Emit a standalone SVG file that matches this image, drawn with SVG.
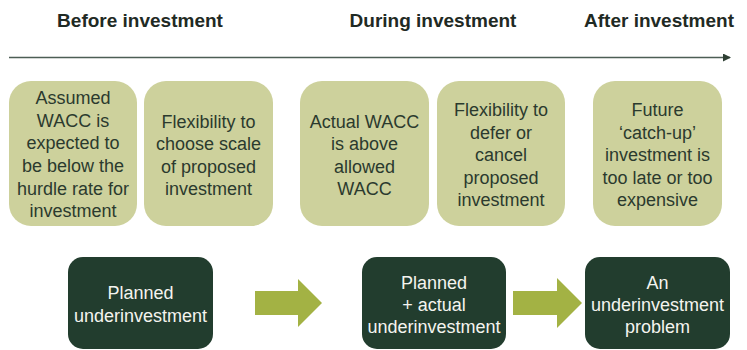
<svg xmlns="http://www.w3.org/2000/svg" width="747" height="350" viewBox="0 0 747 350">
  <style>
    .phase { font-family: "Liberation Sans", Arial, sans-serif; font-size: 19px; font-weight: bold; fill: #1f2a24; text-anchor: middle; }
    .factor rect { fill: #cdd19c; }
    .factor text { font-family: "Liberation Sans", Arial, sans-serif; font-size: 18px; fill: #2b3a2e; text-anchor: middle; }
    .outcome rect { fill: #223d2e; }
    .outcome text { font-family: "Liberation Sans", Arial, sans-serif; font-size: 18px; fill: #f4f4ef; text-anchor: middle; }
    .flow { fill: #a3b244; }
  </style>
  <defs>
    <marker id="timeHead" markerWidth="8" markerHeight="8" refX="7" refY="4" orient="auto" markerUnits="userSpaceOnUse">
      <path d="M0,0 L8,4 L0,8 Z" fill="#2f4034"/>
    </marker>
  </defs>
  <rect width="747" height="350" fill="#ffffff"/>

  <!-- Phase headings -->
  <g id="phases">
    <text class="phase" x="140" y="27">Before investment</text>
    <text class="phase" x="433" y="27">During investment</text>
    <text class="phase" x="659" y="27">After investment</text>
  </g>

  <!-- Connectors: timeline and flow arrows -->
  <g id="connectors">
    <line x1="9" y1="57.5" x2="730" y2="57.5" stroke="#4d5e55" stroke-width="1.6" marker-end="url(#timeHead)"/>
    <path class="flow" d="M255,291 L298,291 L298,279 L322,303 L298,327 L298,315 L255,315 Z"/>
    <path class="flow" d="M513,291 L557,291 L557,278 L582,303 L557,328 L557,315 L513,315 Z"/>
  </g>

  <!-- Contributing factors -->
  <g id="assumed-wacc" class="factor">
    <rect x="9" y="81" width="128" height="145" rx="22"/>
    <text x="73" y="104">Assumed</text>
    <text x="73" y="127">WACC is</text>
    <text x="73" y="149">expected to</text>
    <text x="73" y="172">be below the</text>
    <text x="73" y="195">hurdle rate for</text>
    <text x="73" y="217">investment</text>
  </g>
  <g id="flex-scale" class="factor">
    <rect x="144" y="81" width="129" height="145" rx="22"/>
    <text x="208.5" y="128">Flexibility to</text>
    <text x="208.5" y="150">choose scale</text>
    <text x="208.5" y="173">of proposed</text>
    <text x="208.5" y="195">investment</text>
  </g>
  <g id="actual-wacc" class="factor">
    <rect x="300" y="81" width="129" height="145" rx="22"/>
    <text x="364.5" y="128">Actual WACC</text>
    <text x="364.5" y="150">is above</text>
    <text x="364.5" y="173">allowed</text>
    <text x="364.5" y="195">WACC</text>
  </g>
  <g id="flex-defer" class="factor">
    <rect x="437" y="81" width="128" height="145" rx="22"/>
    <text x="501" y="116">Flexibility to</text>
    <text x="501" y="139">defer or</text>
    <text x="501" y="161">cancel</text>
    <text x="501" y="184">proposed</text>
    <text x="501" y="206">investment</text>
  </g>
  <g id="catch-up" class="factor">
    <rect x="593" y="81" width="129" height="145" rx="22"/>
    <text x="657.5" y="116">Future</text>
    <text x="657.5" y="139">‘catch-up’</text>
    <text x="657.5" y="161">investment is</text>
    <text x="657.5" y="184">too late or too</text>
    <text x="657.5" y="206">expensive</text>
  </g>

  <!-- Outcomes -->
  <g id="planned" class="outcome">
    <rect x="68" y="257" width="145" height="92" rx="15"/>
    <text x="140.5" y="299">Planned</text>
    <text x="140.5" y="322">underinvestment</text>
  </g>
  <g id="planned-actual" class="outcome">
    <rect x="362" y="257" width="144" height="92" rx="15"/>
    <text x="434" y="289">Planned</text>
    <text x="434" y="311">+ actual</text>
    <text x="434" y="333">underinvestment</text>
  </g>
  <g id="problem" class="outcome">
    <rect x="585" y="257" width="145" height="92" rx="15"/>
    <text x="657.5" y="289">An</text>
    <text x="657.5" y="311">underinvestment</text>
    <text x="657.5" y="333">problem</text>
  </g>
</svg>
